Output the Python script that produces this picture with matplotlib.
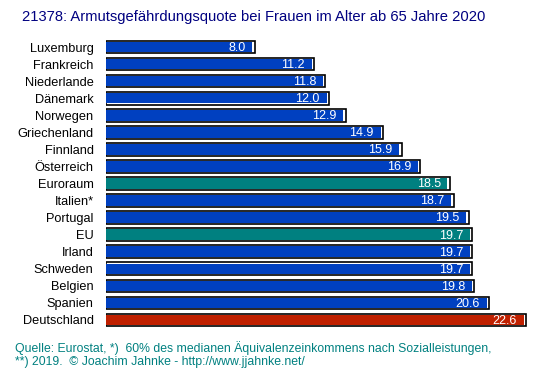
import matplotlib
matplotlib.use("Agg")
import matplotlib.pyplot as plt

plt.rcParams['font.family'] = ['Liberation Sans', 'DejaVu Sans']

# Daten: Armutsgefährdungsquote Frauen ab 65, 2020 (%)
countries = ["Luxemburg", "Frankreich", "Niederlande", "Dänemark", "Norwegen",
             "Griechenland", "Finnland", "Österreich", "Euroraum", "Italien*",
             "Portugal", "EU", "Irland", "Schweden", "Belgien", "Spanien",
             "Deutschland"]
values = [8.0, 11.2, 11.8, 12.0, 12.9, 14.9, 15.9, 16.9, 18.5, 18.7,
          19.5, 19.7, 19.7, 19.7, 19.8, 20.6, 22.6]

blue = "#0040c0"
teal = "#008080"
red = "#c02000"
colors = []
for c in countries:
    if c in ("Euroraum", "EU"):
        colors.append(teal)
    elif c == "Deutschland":
        colors.append(red)
    else:
        colors.append(blue)

fig = plt.figure(figsize=(5.53, 3.76), dpi=100)
ax = fig.add_axes([106 / 553, 1 - 328.5 / 376, (545 - 106) / 553, 290 / 376])

y = list(range(len(countries)))
h = 0.74
# Rahmen mit weißem Rand rechts, dann farbiger Balken
ax.barh(y, values, height=h, color="white", edgecolor="black", linewidth=1.2)
ax.barh(y, [v - 0.14 for v in values], height=h - 0.12, color=colors, linewidth=0)

for yi, v in zip(y, values):
    ax.text(v - 0.5, yi + 0.05, f"{v:.1f}", color="white", fontsize=9,
            ha="right", va="center")

ax.set_xlim(0, (545 - 106) / 18.6)
ax.set_ylim(len(countries) - 0.5, -0.5)
ax.set_yticks(y)
ax.set_yticklabels(countries, fontsize=9.2)
ax.tick_params(axis="y", length=0, pad=9)
ax.set_xticks([])
for s in ax.spines.values():
    s.set_visible(False)

fig.text(22 / 553, 1 - 17 / 376, "21378: Armutsgefährdungsquote bei Frauen im Alter ab 65 Jahre 2020",
         color="#000080", fontsize=10.6, ha="left", va="center")
fig.text(15 / 553, 1 - 348 / 376,
         "Quelle: Eurostat, *)  60% des medianen Äquivalenzeinkommens nach Sozialleistungen,",
         color="#008080", fontsize=8.8, ha="left", va="center")
fig.text(15 / 553, 1 - 362 / 376,
         "**) 2019.  © Joachim Jahnke - http://www.jjahnke.net/",
         color="#008080", fontsize=8.8, ha="left", va="center")

fig.savefig("out.png", dpi=100)
